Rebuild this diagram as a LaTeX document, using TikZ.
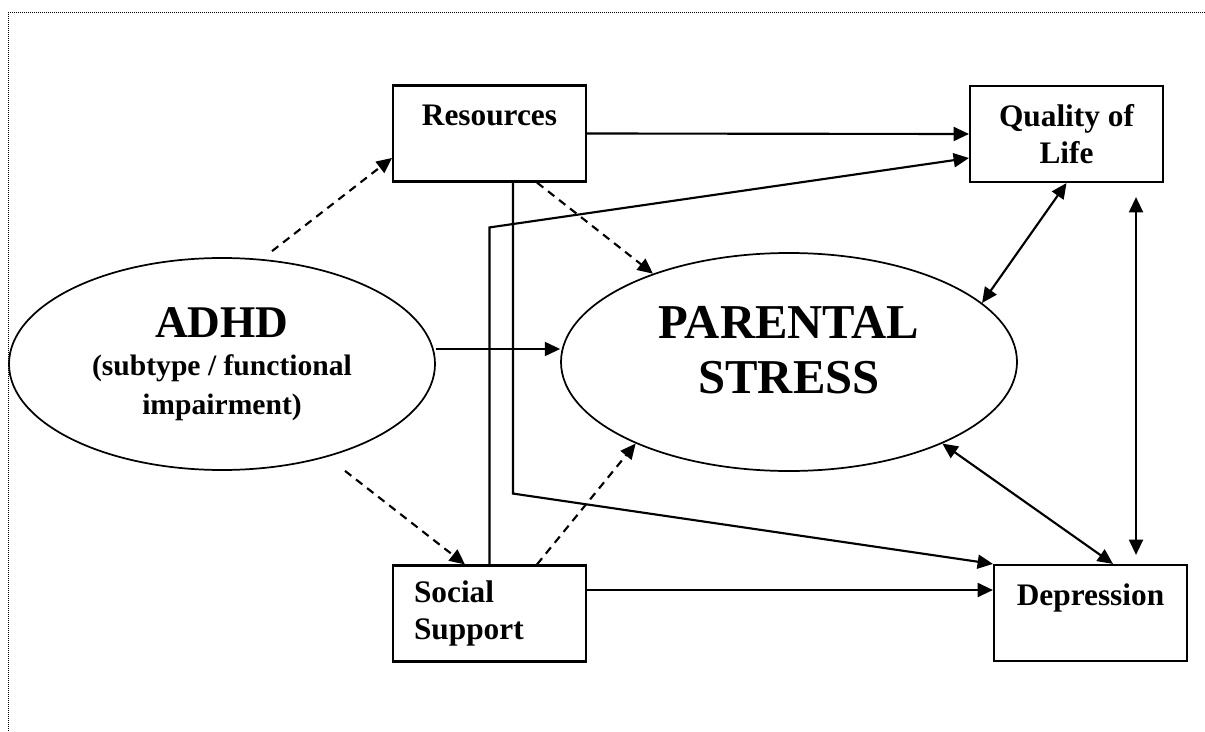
\documentclass[tikz,border=0pt]{standalone}
\usepackage{fontspec}
\setmainfont{Liberation Serif}
\usetikzlibrary{arrows.meta,calc,shapes.geometric}

\tikzset{every picture/.style={line width=1.6pt}}
\tikzset{
  varbox/.style={draw, rectangle, minimum width=144.75pt, minimum height=72pt, inner sep=0pt, align=center, font=\fontsize{23.5}{27.5}\selectfont\bfseries},
  bigoval/.style={draw, ellipse, line width=1.3pt, inner sep=0pt, align=center},
  arr/.style={-{Triangle[length=11.5pt,width=10.5pt]}},
  dblarr/.style={{Triangle[length=11.5pt,width=10.5pt]}-{Triangle[length=11.5pt,width=10.5pt]}},
  dasharr/.style={arr, dash pattern={on 6pt off 4.5pt}},
}

\begin{document}
\begin{tikzpicture}[x=0.75pt,y=0.75pt,yscale=-1,xscale=1]
\useasboundingbox (0,0) rectangle (1205,731); %set diagram size

%Shape: Dotted Frame
\draw [line width=0.75pt, dash pattern={on 0.75pt off 0.75pt}] (1205,13) -- (8,13) -- (8,731) ;

%Shape: Ellipse [adhd]
\node [bigoval, minimum width=319.5pt, minimum height=159pt, font=\fontsize{22.2}{29}\selectfont\bfseries] (adhd) at (222,364) {{\fontsize{34}{40}\selectfont ADHD}\\(subtype / functional\\impairment)};
%Shape: Ellipse [stress]
\node [bigoval, minimum width=342pt, minimum height=163.5pt, text depth=18pt, font=\fontsize{36.5}{41}\selectfont\bfseries] (stress) at (789,362) {PARENTAL\\STRESS};

%Shape: Rectangle [res]
\node [varbox] (res) at (489.5,133.5) {Resources\\~};
%Shape: Rectangle [qol]
\node [varbox] (qol) at (1066.5,134) {Quality of\\Life};
%Shape: Rectangle [soc]
\node [varbox, align=left, text width=113.25pt, inner xsep=15.75pt] (soc) at (489.5,613.5) {Social\\Support};
%Shape: Rectangle [dep]
\node [varbox] (dep) at (1090.5,613) {Depression\\~};

%Straight Lines [adhd paths]
\draw [dasharr] ($(adhd.north)+(50,-6)$) -- ($(res.west)+(0,24.5)$) ;
\draw [dasharr] ($(adhd.south)+(123,0)$) -- ($(soc.north)+(-24.5,0)$) ;
\coordinate (a1) at ($(adhd.east)+(0,-15)$) ;
\draw [arr] (a1) -- (a1 -| stress.west) ;

%Straight Lines [resources paths]
\draw [arr] (res.east) -- (qol.west) ;
\draw [dasharr] ($(res.south)+(47.5,0)$) -- (stress.147) ;
\coordinate (c1) at ($(res.south)+(23.5,311)$) ;
\draw [arr] ($(res.south)+(23.5,0)$) -- (c1) -- (dep.north west) ;

%Straight Lines [support paths]
\coordinate (c2) at ($(soc.north)+(0,-337)$) ;
\draw [arr] (soc.north) -- (c2) -- ($(qol.west)+(0,24)$) ;
\draw [dasharr] ($(soc.north)+(47.5,0)$) -- (stress.208) ;
\coordinate (a2) at ($(soc.east)+(0,-23.5)$) ;
\draw [arr] (a2) -- (a2 -| dep.west) ;

%Straight Lines [outcomes]
\draw [dblarr] (qol.south) -- (stress.17) ;
\draw [dblarr] (stress.-28) -- ($(dep.north)+(22.5,0)$) ;
\draw [dblarr] ($(qol.south)+(69.5,14)$) -- ($(dep.north)+(45.5,-9)$) ;

\end{tikzpicture}
\end{document}
